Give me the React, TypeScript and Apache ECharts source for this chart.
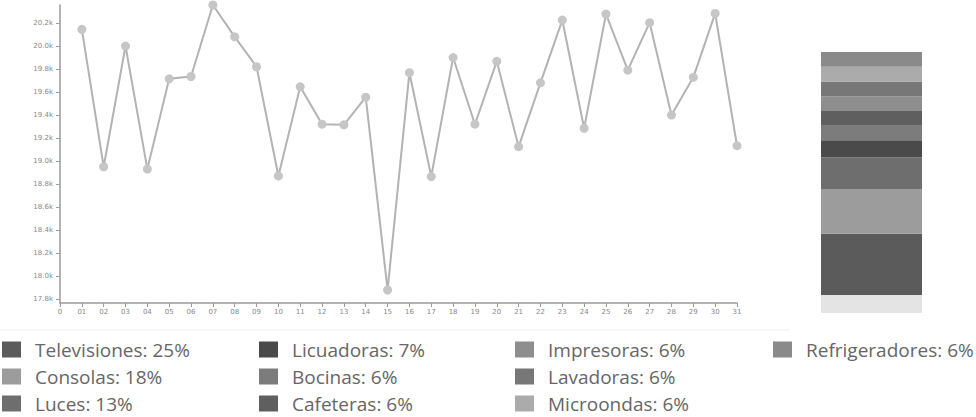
import React, { useEffect, useRef } from "react";
import * as echarts from "echarts";

const days = [1,2,3,4,5,6,7,8,9,10,11,12,13,14,15,16,17,18,19,20,21,22,23,24,25,26,27,28,29,30,31];
const sales = [20145,18950,20000,18930,19715,19735,20357,20080,19820,18870,19645,19320,19315,19555,17878,19768,18865,19900,19320,19867,19125,19680,20226,19285,20278,19790,20203,19400,19728,20284,19133];
const yTicks = [17800,18000,18200,18400,18600,18800,19000,19200,19400,19600,19800,20000,20200];

const categories = ["Televisiones","Consolas","Luces","Licuadoras","Bocinas","Cafeteras","Impresoras","Lavadoras","Microondas","Refrigeradores"];
const shares = [25,18,13,7,6,6,6,6,6,6];
const catColors = ["#5b5b5b","#9c9c9c","#6e6e6e","#4a4a4a","#7c7c7c","#5f5f5f","#8e8e8e","#777777","#ababab","#8a8a8a"];

const legendCols = [
  { left: 2, items: ["Televisiones","Consolas","Luces"] },
  { left: 259, items: ["Licuadoras","Bocinas","Cafeteras"] },
  { left: 515, items: ["Impresoras","Lavadoras","Microondas"] },
  { left: 773, items: ["Refrigeradores"] },
];

export default function App() {
  const ref = useRef<HTMLDivElement>(null);
  useEffect(() => {
    document.body.style.margin = "0";
    const chart = echarts.init(ref.current!, null, { renderer: "svg" });
    const pad = (v: number) => (v === 0 ? "0" : String(v).padStart(2, "0"));
    const axisGray = "#9a9a9a";
    const option: any = {
      animation: false,
      backgroundColor: "#ffffff",
      grid: [
        { left: 60, right: 239, top: 5, bottom: 114 },
        { left: 821, right: 54, top: 52, bottom: 122 },
      ],
      xAxis: [
        {
          type: "value", gridIndex: 0, min: 0, max: 31, interval: 1,
          axisLine: { show: true, lineStyle: { color: axisGray, width: 1.5 } },
          axisTick: { show: true, length: 4, lineStyle: { color: axisGray } },
          axisLabel: { formatter: pad, fontSize: 7, color: "#888", margin: 5, fontFamily: "DejaVu Sans" },
          splitLine: { show: false },
        },
        { type: "category", gridIndex: 1, data: ["total"], show: false },
      ],
      yAxis: [
        {
          type: "value", gridIndex: 0, min: 17765, max: 20357,
          axisLine: { show: true, lineStyle: { color: axisGray, width: 1.5 } },
          axisTick: { show: true, length: 4, lineStyle: { color: axisGray }, customValues: yTicks },
          axisLabel: { customValues: yTicks, formatter: (v: number) => (v / 1000).toFixed(1) + "k", fontSize: 7, color: "#888", margin: 7, fontFamily: "DejaVu Sans" },
          splitLine: { show: false },
        },
        { type: "value", gridIndex: 1, min: 0, max: 99, show: false },
      ],
      legend: legendCols.map((c) => ({
        orient: "vertical", left: c.left, top: 340, height: 120, padding: 0, data: c.items,
        icon: "rect", itemWidth: 19, itemHeight: 16, itemGap: 8,
        formatter: (n: string) => `${n}: ${shares[categories.indexOf(n)]}%`,
        textStyle: { fontSize: 19, color: "#666", fontFamily: "Open Sans", padding: [0, 0, 0, 9] },
        selectedMode: false,
      })),
      graphic: [
        { type: "rect", shape: { x: 821, y: 295, width: 101, height: 18 }, style: { fill: "#e4e4e4" } },
        { type: "line", shape: { x1: 0, y1: 330, x2: 790, y2: 330 }, style: { stroke: "#f0f0f0", lineWidth: 1 } },
      ],
      series: [
        {
          type: "line", xAxisIndex: 0, yAxisIndex: 0,
          data: days.map((d, i) => [d, sales[i]]),
          symbol: "circle", symbolSize: 9,
          lineStyle: { color: "#b3b3b3", width: 2 },
          itemStyle: { color: "#c6c6c6" },
        },
        ...categories.map((name, i) => ({
          name, type: "bar", xAxisIndex: 1, yAxisIndex: 1, stack: "total",
          barWidth: "100%", data: [shares[i]],
          itemStyle: { color: catColors[i] },
        })),
      ],
    };
    chart.setOption(option);
    return () => chart.dispose();
  }, []);
  return <div ref={ref} style={{ width: 976, height: 417 }} />;
}
